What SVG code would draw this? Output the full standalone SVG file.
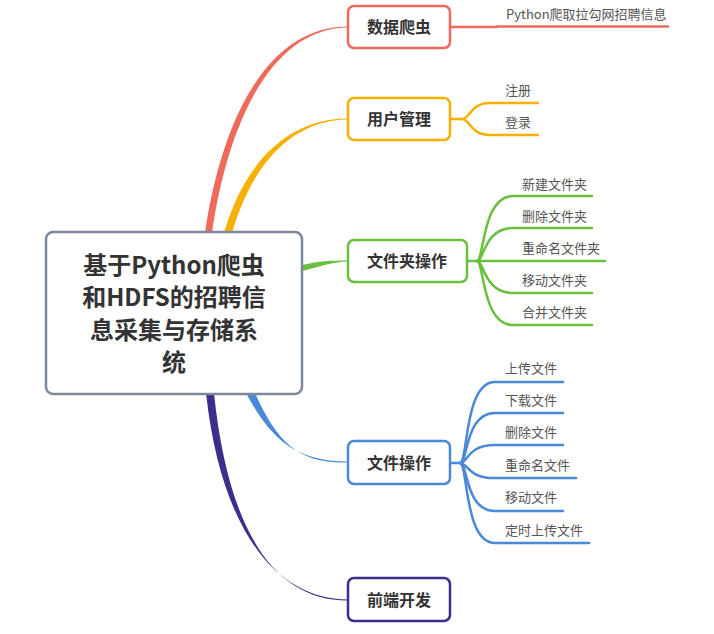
<svg xmlns="http://www.w3.org/2000/svg" width="714" height="634" viewBox="0 0 714 634">
<style>
.node{fill:#fff;stroke-width:2.5}
.nt{font-family:"Noto Sans CJK SC","Noto Sans",sans-serif;font-weight:bold;font-size:16px;fill:#333;text-anchor:middle}
.ct{font-family:"Noto Sans CJK SC","Noto Sans",sans-serif;font-size:13px;fill:#555}
.mt{font-family:"Noto Sans CJK SC","Noto Sans",sans-serif;font-weight:bold;font-size:24px;fill:#333;text-anchor:middle}
.br{fill:none;stroke-width:2.5;stroke-linecap:round}
</style>
<rect width="714" height="634" fill="#fff"/>
<g id="connectors">
  <!-- main tapered branches -->
  <path d="M205,233 C222,118 268,26.5 348,26.5 L348,27.5 C272,28 228,122 212,233 Z" fill="#ef6a5a"/>
  <path d="M224,233 C245,160 290,118.5 348,118.5 L348,119.5 C292,120 252,164 232,233 Z" fill="#f5b000"/>
  <path d="M302,265 C320,261 330,260.5 348,260.5 L348,261.5 C332,262 322,266 302,271 Z" fill="#6abf40"/>
  <path d="M246,393 C272,442 298,461.5 348,461.5 L348,462.5 C300,464 278,444 255,393 Z" fill="#4a88d8"/>
  <path d="M206,393 C221,530 276,599.5 348,599.5 L348,600.5 C274,601 228,530 214,393 Z" fill="#3b2e8c"/>
  <!-- red child -->
  <path class="br" d="M450,27 L497,27" stroke="#ef6a5a" stroke-width="1.2"/>
  <path class="br" d="M497,26.5 L668,26.5" stroke="#ef6a5a" stroke-width="3"/>
  <!-- orange children -->
  <g stroke="#f5b000" class="br">
    <path class="br" d="M450,119 L462,119 C470,119 470,103 490,103 L538,103"/>
    <path class="br" d="M462,119 C470,119 470,135 490,135 L538,135"/>
  </g>
  <!-- green children -->
  <g stroke="#6abf40">
    <path class="br" d="M467,261 L477,261 C484,261 482,196 513,196 L592,196"/>
    <path class="br" d="M477,261 C484,261 484,228 513,228 L592,228"/>
    <path class="br" d="M477,261 L605,261"/>
    <path class="br" d="M477,261 C484,261 484,293 513,293 L592,293"/>
    <path class="br" d="M477,261 C484,261 482,325 513,325 L592,325"/>
  </g>
  <!-- blue children -->
  <g stroke="#4a88d8">
    <path class="br" d="M450,463 L460,463 C468,463 464,382 495,382 L563,382"/>
    <path class="br" d="M460,463 C468,463 465,413 495,413 L563,413"/>
    <path class="br" d="M460,463 C468,463 467,445 495,445 L563,445"/>
    <path class="br" d="M460,463 C468,463 467,478 495,478 L576,478"/>
    <path class="br" d="M460,463 C468,463 465,511 495,511 L563,511"/>
    <path class="br" d="M460,463 C468,463 464,543 495,543 L589,543"/>
  </g>
</g>
<g id="root">
  <rect x="46" y="232" width="256" height="162" rx="7" class="node" stroke="#7d889a"/>
  <text class="mt" x="174" y="274">基于Python爬虫</text>
  <text class="mt" x="174" y="306">和HDFS的招聘信</text>
  <text class="mt" x="174" y="339">息采集与存储系</text>
  <text class="mt" x="174" y="371">统</text>
</g>
<g id="n-crawler">
  <rect x="348" y="6" width="102" height="42" rx="6" class="node" stroke="#ef6a5a"/>
  <text class="nt" x="399" y="33">数据爬虫</text>
  <text class="ct" x="506" y="19">Python爬取拉勾网招聘信息</text>
</g>
<g id="n-user">
  <rect x="348" y="98" width="102" height="42" rx="6" class="node" stroke="#f5b000"/>
  <text class="nt" x="399" y="125">用户管理</text>
  <text class="ct" x="505" y="95">注册</text>
  <text class="ct" x="505" y="127">登录</text>
</g>
<g id="n-folder">
  <rect x="348" y="240" width="119" height="42" rx="6" class="node" stroke="#6abf40"/>
  <text class="nt" x="407" y="267">文件夹操作</text>
  <text class="ct" x="522" y="189">新建文件夹</text>
  <text class="ct" x="522" y="221">删除文件夹</text>
  <text class="ct" x="522" y="253">重命名文件夹</text>
  <text class="ct" x="522" y="285">移动文件夹</text>
  <text class="ct" x="522" y="317">合并文件夹</text>
</g>
<g id="n-file">
  <rect x="348" y="441" width="102" height="43" rx="6" class="node" stroke="#4a88d8"/>
  <text class="nt" x="399" y="469">文件操作</text>
  <text class="ct" x="505" y="373">上传文件</text>
  <text class="ct" x="505" y="405">下载文件</text>
  <text class="ct" x="505" y="437">删除文件</text>
  <text class="ct" x="505" y="470">重命名文件</text>
  <text class="ct" x="505" y="502">移动文件</text>
  <text class="ct" x="505" y="535">定时上传文件</text>
</g>
<g id="n-frontend">
  <rect x="348" y="578" width="102" height="43" rx="6" class="node" stroke="#3b2e8c"/>
  <text class="nt" x="399" y="606">前端开发</text>
</g>
</svg>
